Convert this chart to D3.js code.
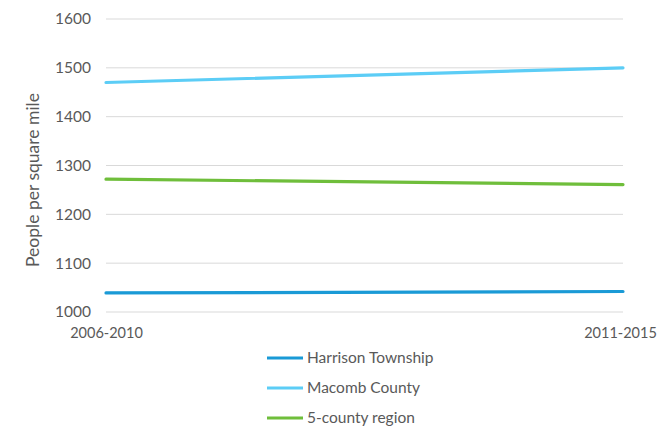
<!DOCTYPE html>
<html>
<head>
<meta charset="utf-8">
<script src="https://cdn.jsdelivr.net/npm/d3@7"></script>
<style>
  html, body { margin: 0; padding: 0; background: #fff; }
  svg { display: block; font-family: Lato, "Open Sans", sans-serif; }
</style>
</head>
<body>
<svg id="chart" width="659" height="443"></svg>
<script>
// Population density by period
const periods = ["2006-2010", "2011-2015"];
const seriesNames = ["Harrison Township", "Macomb County", "5-county region"];
const harrison = [1039, 1042];
const macomb = [1470, 1500];
const region = [1272, 1261];
const yTicks = [1000, 1100, 1200, 1300, 1400, 1500, 1600];
const colors = ["#1a9ad6", "#5ccdf6", "#6fbe3b"];

const seriesData = [harrison, macomb, region];

const svg = d3.select("#chart");
const plotLeft = 106, plotRight = 623, plotTop = 19, plotBottom = 312;

const x = d3.scalePoint().domain(periods).range([plotLeft, plotRight]);
const y = d3.scaleLinear().domain([1000, 1600]).range([plotBottom, plotTop]);

// gridlines
svg.append("g").selectAll("line").data(yTicks).join("line")
  .attr("x1", plotLeft).attr("x2", plotRight)
  .attr("y1", d => y(d)).attr("y2", d => y(d))
  .attr("stroke", "#d9d9d9").attr("stroke-width", 1);

// y axis labels
const yAxis = d3.axisLeft(y).tickValues(yTicks).tickFormat(d3.format("d"))
  .tickSize(0).tickPadding(15);
const yg = svg.append("g").attr("transform", `translate(${plotLeft},0)`).call(yAxis);
yg.select(".domain").remove();
yg.selectAll("text").attr("fill", "#595959").style("font-size", "15.5px")
  .style("font-family", "Lato, 'Open Sans', sans-serif");

// x axis labels
const xAxis = d3.axisBottom(x).tickSize(0).tickPadding(16);
const xg = svg.append("g").attr("transform", `translate(0,${plotBottom})`).call(xAxis);
xg.select(".domain").remove();
xg.selectAll("text").attr("fill", "#595959").style("font-size", "14.5px")
  .style("font-family", "Lato, 'Open Sans', sans-serif");
// keep the last label inside the frame
xg.selectAll(".tick:last-of-type text").attr("dx", "-3");

// y axis title
svg.append("text")
  .attr("transform", `translate(39,180) rotate(-90)`)
  .attr("text-anchor", "middle")
  .attr("fill", "#595959").style("font-size", "17.5px")
  .text("People per square mile");

// series lines
const line = d3.line().x((d, i) => x(periods[i])).y(d => y(d));
svg.append("g").selectAll("path").data(seriesData).join("path")
  .attr("d", d => line(d))
  .attr("fill", "none")
  .attr("stroke", (d, i) => colors[i])
  .attr("stroke-width", 3.2)
  .attr("stroke-linecap", "round");

// legend
const lg = svg.append("g").selectAll("g").data(seriesNames).join("g")
  .attr("transform", (d, i) => `translate(267,${358 + i * 30})`);
lg.append("line").attr("x1", 0).attr("x2", 36).attr("y1", 0).attr("y2", 0)
  .attr("stroke", (d, i) => colors[i]).attr("stroke-width", 3.2);
lg.append("text").attr("x", 40).attr("y", 0).attr("dy", "0.35em")
  .attr("fill", "#595959").style("font-size", "15.5px")
  .text(d => d);
</script>
</body>
</html>
